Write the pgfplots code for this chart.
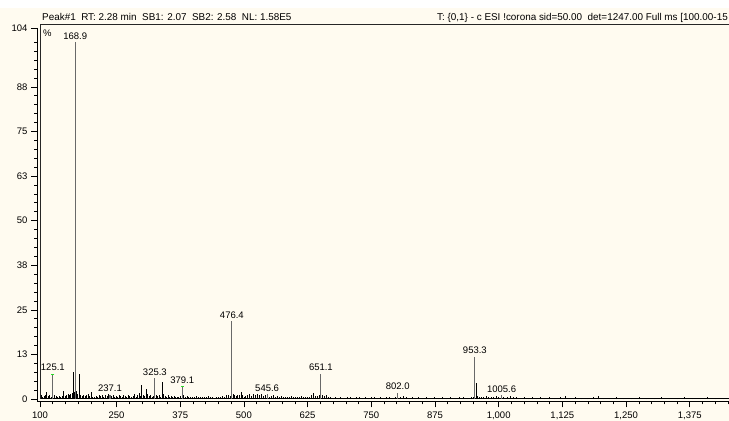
\documentclass[border=0pt]{standalone}
\usepackage{pgfplots}
\pgfplotsset{compat=1.18}
\usepackage{pgfplotstable}
\usepackage{fontspec}
\setmainfont{Liberation Sans}
\definecolor{cream}{RGB}{255,251,240}
\definecolor{peakgray}{RGB}{105,105,105}
\definecolor{markgreen}{RGB}{40,220,40}

\pgfplotstableread{
mz I
102 1.0
105 0.6
108 0.8
110 1.2
113 2.0
116 0.9
119 1.1
122 0.7
128 1.0
131 0.8
134 0.6
137 0.9
140 0.7
143 0.8
146 2.2
149 0.9
152 1.0
155 1.3
158 1.1
160 1.4
163 1.8
165 7.5
167 2.0
171 2.2
173 1.5
176.5 7.0
179 1.2
182 0.9
185 1.0
188 0.8
191 1.1
194 1.3
197 0.8
200 1.9
203 0.7
206 0.6
210 0.9
213 0.5
216 1.2
219 0.8
222 1.0
225 0.7
228 1.1
231 0.9
234 1.3
240 0.8
243 1.0
246 0.6
249 0.9
252 0.7
255 1.1
258 0.8
261 0.6
264 1.0
267 0.9
270 0.7
273 1.2
276 0.8
279 0.6
282 0.9
285 1.4
288 0.7
291 1.0
294 1.8
296 0.8
299.5 3.9
302 1.1
305 0.9
308 2.7
311 1.3
314 0.8
317 1.0
320 0.7
322 0.9
328 1.2
331 0.8
334 1.0
336 0.6
339 4.7
342 1.3
345 0.9
348 0.7
351 1.0
354 0.6
357 0.8
360 0.5
363 0.9
366 0.6
369 0.7
372 0.5
375 0.8
382 1.0
385 0.6
388 0.8
391 0.5
395 0.7
398 0.6
402 0.5
406 0.8
410 0.6
414 0.5
418 0.7
422 0.5
426 0.6
430 0.8
434 0.5
438 0.6
442 0.4
446 0.7
450 0.5
454 0.6
458 0.8
462 0.7
466 1.0
470 1.2
473 0.9
479 1.5
482 1.1
485 0.8
488 1.0
491 1.2
494 2.0
497 1.0
500 0.7
503 0.9
506 1.1
510 1.3
514 0.8
518 1.4
522 1.2
526 1.4
530 1.0
534 1.3
538 0.8
542 1.2
549 0.7
553 0.9
557 1.1
561 0.6
565 0.8
569 0.6
573 0.9
577 0.5
581 0.7
585 0.6
589 0.5
593 0.8
597 0.6
601 0.7
605 0.5
609 0.6
613 0.8
617 0.5
621 0.6
625 0.7
629 0.5
633 1.2
637 1.8
641 0.9
645 0.8
648 1.0
654 1.1
658 0.8
662 1.0
666 0.6
670 0.5
675 0.4
680 0.5
685 0.4
690 0.6
696 0.4
702 0.5
708 0.6
714 0.4
720 0.5
726 0.6
732 0.4
738 0.5
744 0.4
750 0.5
756 0.6
762 0.4
768 0.5
774 0.4
780 0.5
786 0.6
792 0.4
798 0.5
806 0.6
812 0.8
818 0.5
824 0.4
830 0.5
836 0.4
842 0.5
850 0.4
858 0.5
866 0.4
874 0.6
882 0.4
890 0.5
898 0.4
906 0.5
914 0.4
922 0.5
930 0.6
938 0.4
946 0.5
950 0.7
955.3 4.5
958 0.9
962 0.6
966 0.7
970 0.5
975 0.8
980 0.6
985 0.7
990 0.5
995 0.8
1000 0.6
1010 0.6
1016 0.7
1022 0.9
1028 0.5
1035 0.6
1042 0.4
1050 0.5
1058 0.4
1066 0.5
1074 0.4
1082 0.5
1090 0.4
1100 0.5
1110 0.4
1120 0.5
1130 0.9
1140 0.4
1150 0.5
1162 0.4
1174 0.4
1186 0.5
1195 0.8
1205 0.4
1218 0.4
1230 0.5
1245 0.4
1260 0.4
1275 0.5
1290 0.4
1305 0.4
1320 0.5
1335 0.4
1350 0.4
1365 0.5
1380 0.4
1395 0.4
1410 0.5
1425 0.4
1440 0.4
}\noise

\pgfplotstableread{
mz I label
125.1 7.0 125.1
168.9 100 168.9
237.1 1.1 237.1
325.3 5.8 325.3
379.1 3.4 379.1
476.4 21.8 476.4
545.6 1.3 545.6
651.1 7.0 651.1
802.0 1.8 802.0
953.3 11.8 953.3
1005.6 1.0 1005.6
}\labeled

\begin{document}
\begin{tikzpicture}
\useasboundingbox (0bp,0bp) rectangle (729bp,421bp);
\clip (0bp,0bp) rectangle (729bp,421bp);
\fill[cream] (0bp,0bp) rectangle (729bp,421bp);
\fill[white] (0bp,413bp) rectangle (729bp,421bp);
\begin{axis}[
  at={(37bp,19.5bp)}, anchor=south west,
  scale only axis, width=692bp, height=373.5bp,
  xmin=94, xmax=1452, ymin=-0.7, ymax=104,
  axis lines=left,
  axis line style={-, line width=0.8bp, black},
  clip=false,
  xtick={100,250,375,500,625,750,875,1000,1125,1250,1375},
  xticklabels={100,250,375,500,625,750,875,{1,000},{1,125},{1,250},{1,375}},
  minor xtick={125,150,...,1450},
  ytick={0,12.5,25,37.5,50,62.5,75,87.5,104},
  yticklabels={0,13,25,38,50,63,75,88,104},
  minor ytick={2.5,5,...,100},
  tick align=outside,
  major tick length=6bp, minor tick length=3bp,
  every tick/.style={black, line width=0.6bp},
  tick label style={font=\fontsize{9.5bp}{11bp}\selectfont, text=black},
  xticklabel style={yshift=-1bp},
]
\addplot[black, line width=0.7bp, mark=none] coordinates {(100,0.25) (1452,0.25)};
\addplot[ycomb, black, line width=0.6bp, mark=none] table[x=mz, y=I] {\noise};
\addplot[ycomb, peakgray, line width=1.2bp, mark=none,
  nodes near coords, point meta=explicit symbolic,
  nodes near coords style={font=\fontsize{9.5bp}{11bp}\selectfont, text=black, anchor=south, inner sep=0pt, yshift=2.5bp}]
  table[x=mz, y=I, meta=label] {\labeled};
\addplot[only marks, mark=-, mark size=1.6bp, markgreen, line width=1bp] coordinates {(125.1,7.0) (379.1,3.4)};
\draw[black!85, line width=0.9bp] (axis cs:100,0) -- (axis cs:100,105.1) -- (axis cs:1470,105.1);
\end{axis}
\node[anchor=base west, inner sep=0pt, font=\fontsize{9.9bp}{11bp}\selectfont] at (42bp,400bp) {Peak\#1\ \ RT: 2.28 min\ \ SB1: 2.07\ \ SB2: 2.58\ \ NL: 1.58E5};
\node[anchor=base east, inner sep=0pt, font=\fontsize{9.9bp}{11bp}\selectfont] at (728bp,400bp) {T: \{0,1\} - c ESI !corona sid=50.00\ \ det=1247.00 Full ms [100.00-15};
\node[anchor=west, inner sep=0pt, font=\fontsize{9.5bp}{11bp}\selectfont] at (43bp,388bp) {\%};
\end{tikzpicture}
\end{document}
